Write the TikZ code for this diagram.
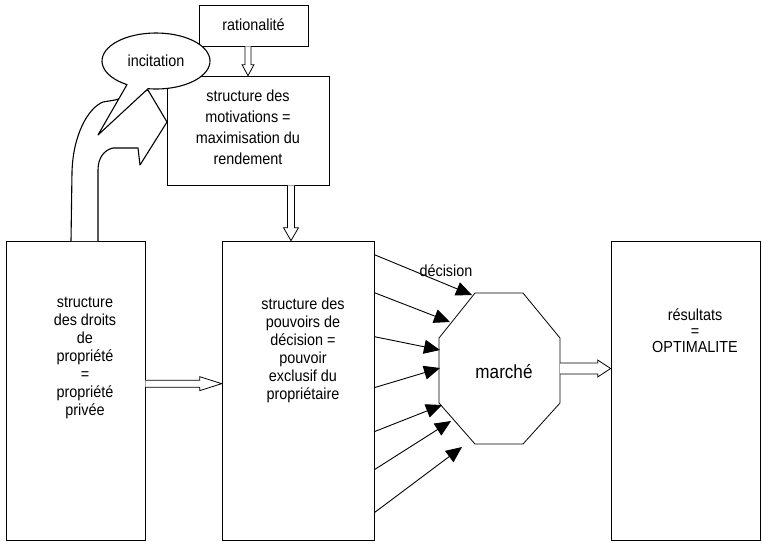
\documentclass[tikz,border=0pt]{standalone}
\usepackage{fontspec}
\setmainfont{Liberation Sans}[FakeStretch=0.9]
\usetikzlibrary{calc,arrows.meta}
\newcommand{\hhollow}[5]{% start, end, shaft half, head half, head length (rightwards)
  \draw[hollow] ($(#1)+(0,-#3)$) -- ($(#2)+(-#5,-#3)$) -- ($(#2)+(-#5,-#4)$) -- (#2)
    -- ($(#2)+(-#5,#4)$) -- ($(#2)+(-#5,#3)$) -- ($(#1)+(0,#3)$);}
\newcommand{\vhollow}[5]{% start, end, shaft half, head half, head length (downwards)
  \draw[hollow] ($(#1)+(-#3,0)$) -- ($(#2)+(-#3,-#5)$) -- ($(#2)+(-#4,-#5)$) -- (#2)
    -- ($(#2)+(#4,-#5)$) -- ($(#2)+(#3,-#5)$) -- ($(#1)+(#3,0)$);}
\begin{document}
\begin{tikzpicture}[x=1pt,y=-1pt,
  box/.style={draw, line width=0.7pt, inner sep=0pt},
  txt/.style={font=\fontsize{16}{18}\selectfont, align=center, inner sep=0pt},
  hollow/.style={draw, line width=0.8pt, fill=white, line join=miter},
  freeform/.style={draw, line width=1.1pt, fill=white, line join=round},
  dec/.style={line width=0.9pt, -{Triangle[length=16pt,width=14pt]}}]
\useasboundingbox (0,0) rectangle (762,542);
% boxes
\node[box, minimum width=109pt, minimum height=41pt] (rat) at (253.5,25.5) {};
\node[box, minimum width=162pt, minimum height=109pt] (mot) at (248,130.5) {};
\node[box, minimum width=139pt, minimum height=299pt] (left) at (75.5,390.5) {};
\node[box, minimum width=152pt, minimum height=299pt] (mid) at (298,390.5) {};
\node[box, minimum width=149pt, minimum height=299pt] (res) at (685.5,390.5) {};
% texts
\node[txt] (rattxt) at (253.5,25) {rationalité};
\node[txt, font=\fontsize{16}{21}\selectfont] (mottxt) at (248,127) {structure des\\motivations =\\maximisation du\\rendement};
\node[txt] (lefttxt) at (85,358) {structure\\des droits\\de\\propriété\\=\\propriété\\privée};
\node[txt] (midtxt) at (303,350) {structure des\\pouvoirs de\\décision =\\pouvoir\\exclusif du\\propriétaire};
\node[txt, font=\fontsize{16}{16}\selectfont] (restxt) at (695,331) {résultats\\=\\OPTIMALITE};
% market octagon
\node[minimum width=121pt, minimum height=151pt, inner sep=0pt] (mkt) at (499.5,368.5) {};
\draw[line width=0.8pt, shift={(mkt.center)}] (-24.5,-75.5) -- (23.5,-75.5) -- (60.5,-30.5) -- (60.5,34.5)
  -- (23.5,75.5) -- (-24.5,75.5) -- (-60.5,34.5) -- (-60.5,-30.5) -- cycle;
\node[txt, font=\fontsize{19}{20}\selectfont] (mkttxt) at (504,372) {marché};
% hollow arrows
\coordinate (a1s) at (mot.north |- rat.south);
\vhollow{a1s}{mot.north}{3}{6}{11}
\coordinate (a2s) at ($(mot.south)+(43,0)$);
\coordinate (a2e) at (a2s |- mid.north);
\vhollow{a2s}{a2e}{3.5}{7.5}{13}
\coordinate (a3s) at ($(left.north east)+(0,143)$);
\coordinate (a3e) at (a3s -| mid.west);
\hhollow{a3s}{a3e}{3.5}{7}{22}
\coordinate (a4s) at (mkt.east);
\coordinate (a4e) at (a4s -| res.west);
\hhollow{a4s}{a4e}{5.5}{8.5}{13}
% decision arrows
\foreach \ys/\dx/\dy in {14/-27.5/-73.5, 52/-49.5/-46.5, 96/-59.5/-18.5, 147/-59.5/-0.5,
  191/-57.5/36.5, 229/-48.5/52.5, 272/-37.5/78.5}
  \draw[dec] ($(mid.north east)+(0,\ys)$) -- ($(mkt.center)+(\dx,\dy)$);
\node[txt] (dectxt) at (446,271) {décision};
% curved block arrow (incitation)
\draw[freeform] (71,241) -- (72,172) .. controls (73,135) and (88,108) .. (103,102) -- (115,100) -- (148,90)
  -- (167,122) -- (140,165) -- (138,148) -- (113,148) .. controls (104,150) and (98,158) .. (98,170) -- (98,241);
% callout
\draw[freeform] (98,135) -- ($(156,61)+(122.5:54 and 28)$) arc[start angle=122.5, end angle=458.5, x radius=54, y radius=28] -- cycle;
\node[txt] (inc) at (156,61) {incitation};
\end{tikzpicture}
\end{document}
